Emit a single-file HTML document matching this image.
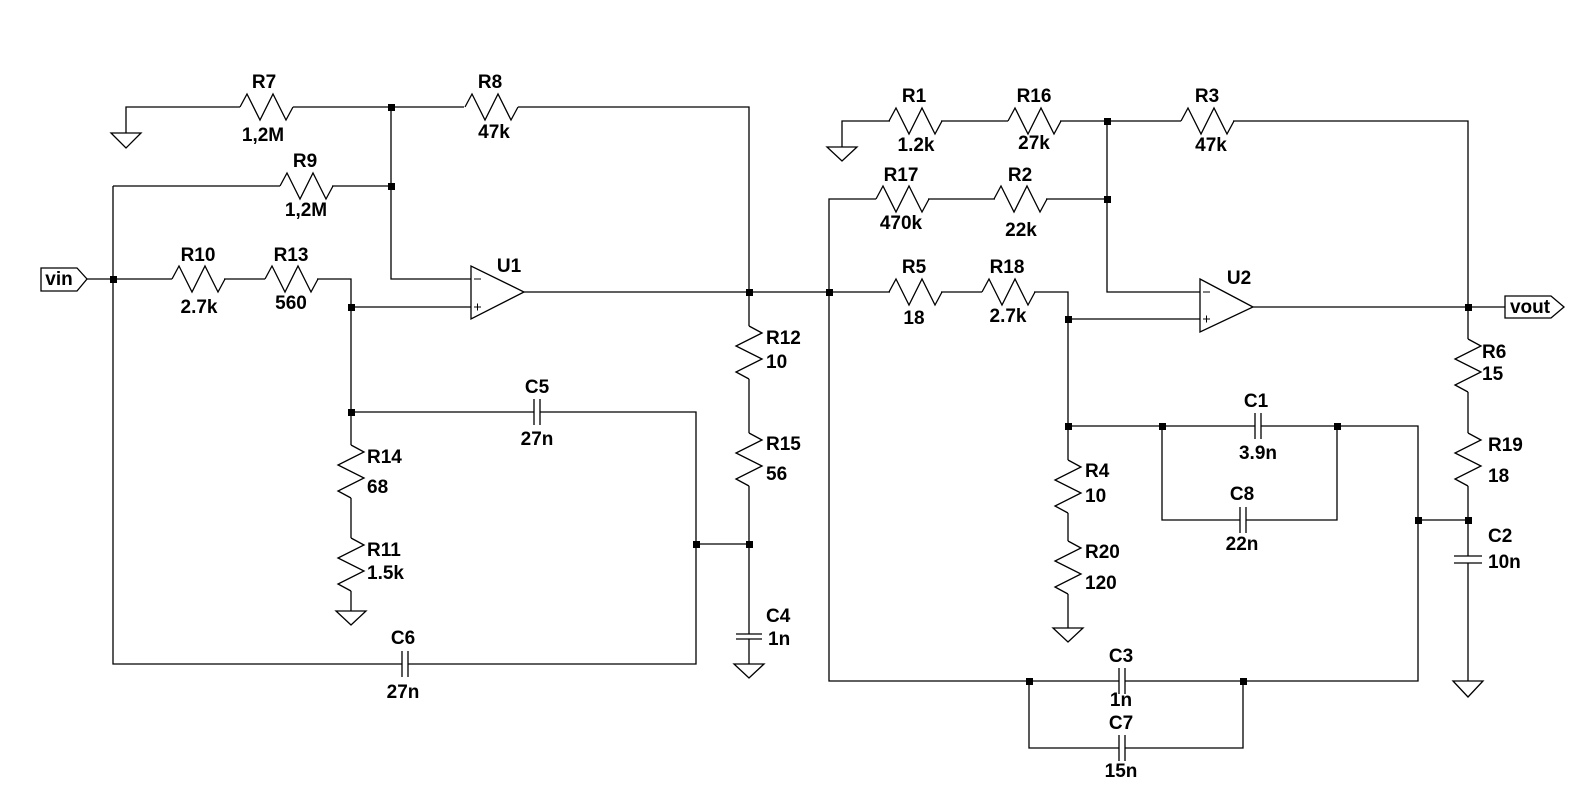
<!DOCTYPE html>
<html><head><meta charset="utf-8"><style>
html,body{margin:0;padding:0;background:#fff;}
svg{display:block;}
text{font-family:"Liberation Sans",Arial,sans-serif;font-weight:bold;font-size:19px;fill:#000;dominant-baseline:middle;}
.c{text-anchor:middle;}
</style></head><body>
<svg width="1580" height="794" viewBox="0 0 1580 794" xmlns="http://www.w3.org/2000/svg">
<defs>
<path id="rh" d="M0,0 L7,-13 L20,13 L33,-13 L46,13 L53,0" fill="none" stroke="#000" stroke-width="1.3"/>
<path id="rv" d="M0,0 L13,7 L-13,20 L13,33 L-13,46 L0,53" fill="none" stroke="#000" stroke-width="1.3"/>
</defs>
<g fill="none" stroke="#000" stroke-width="1.3">
<!-- left wires -->
<path d="M126,133 V107 H240 M293,107 H464 M518,107 H749 V326 M749,379 V433 M749,486 V634 M749,639 V664"/>
<path d="M391,107 V279 H471 M113,186 H280 M332,186 H391"/>
<path d="M87,279 H172 M224,279 H265 M317,279 H351 V445 M351,498 V538 M351,591 V611"/>
<path d="M351,307 H471 M351,412 H534 M540,412 H696 V664 H408 M402,664 H113 V186 M696,544 H749"/>
<path d="M524,292 H829"/>
<!-- right wires -->
<path d="M842,147 V121 H890 M941,121 H1008 M1060,121 H1181 M1233,121 H1468 V339 M1468,392 V433 M1468,486 V556 M1468,563 V681"/>
<path d="M829,292 V199 H876 M928,199 H995 M1046,199 H1107 M1107,121 V292 H1200"/>
<path d="M829,292 H890 M941,292 H982 M1034,292 H1068 V460 M1068,513 V541 M1068,594 V628"/>
<path d="M1068,319 H1200 M1068,426 H1255 M1261,426 H1418 V681 H1125 M1119,681 H829 V292"/>
<path d="M1162,426 V520 H1240 M1246,520 H1337 V426 M1029,681 V748 H1119 M1125,748 H1243 V681 M1418,520 H1468 M1253,307 H1505"/>
<!-- capacitor plates -->
<path d="M534,399 V425 M540,399 V425 M402,651 V677 M408,651 V677 M736,634 H762 M736,639 H762"/>
<path d="M1255,413 V439 M1261,413 V439 M1240,507 V533 M1246,507 V533 M1119,668 V694 M1125,668 V694 M1119,735 V761 M1125,735 V761 M1454,556 H1482 M1454,563 H1482"/>
<!-- grounds -->
<path d="M111,133 H141 L126,148 Z M336,611 H366 L351,625 Z M734,664 H764 L749,678 Z M827,147 H857 L842,161 Z M1053,628 H1083 L1068,642 Z M1453,681 H1483 L1468,697 Z"/>
<!-- opamps -->
<path d="M471,266 V319 L524,292 Z M1200,279 V332 L1253,307 Z"/>
<path d="M474,279 H481 M474,307 H481 M477.5,303.5 V310.5 M1203,292 H1210 M1203,319 H1210 M1206.5,315.5 V322.5" stroke-width="1"/>
<!-- ports -->
<path d="M41,268 H77 L87,279 L77,291 H41 Z M1505,296 H1551 L1564,307 L1551,318 H1505 Z"/>
</g>
<use href="#rh" x="240" y="107"/><use href="#rh" x="465" y="107"/><use href="#rh" x="280" y="186"/>
<use href="#rh" x="172" y="279"/><use href="#rh" x="265" y="279"/>
<use href="#rv" x="749" y="326"/><use href="#rv" x="749" y="433"/>
<use href="#rv" x="351" y="445"/><use href="#rv" x="351" y="538"/>
<use href="#rh" x="889" y="121"/><use href="#rh" x="1008" y="121"/><use href="#rh" x="1181" y="121"/>
<use href="#rh" x="876" y="199"/><use href="#rh" x="994" y="199"/>
<use href="#rh" x="889" y="292"/><use href="#rh" x="982" y="292"/>
<use href="#rv" x="1068" y="460"/><use href="#rv" x="1068" y="541"/>
<use href="#rv" x="1468" y="339"/><use href="#rv" x="1468" y="433"/>
<g fill="#000">
<rect x="388" y="104" width="7" height="7"/><rect x="388" y="183" width="7" height="7"/><rect x="110" y="276" width="7" height="7"/>
<rect x="348" y="304" width="7" height="7"/><rect x="348" y="409" width="7" height="7"/><rect x="746" y="289" width="7" height="7"/>
<rect x="693" y="541" width="7" height="7"/><rect x="746" y="541" width="7" height="7"/><rect x="826" y="289" width="7" height="7"/>
<rect x="1104" y="118" width="7" height="7"/><rect x="1104" y="196" width="7" height="7"/><rect x="1065" y="316" width="7" height="7"/>
<rect x="1065" y="423" width="7" height="7"/><rect x="1159" y="423" width="7" height="7"/><rect x="1334" y="423" width="7" height="7"/>
<rect x="1415" y="517" width="7" height="7"/><rect x="1465" y="517" width="7" height="7"/><rect x="1465" y="304" width="7" height="7"/>
<rect x="1026" y="678" width="7" height="7"/><rect x="1240" y="678" width="7" height="7"/>
</g>
<text x="59" y="280" class="c">vin</text>
<text x="1530" y="308" class="c">vout</text>
<text x="264" y="83" class="c">R7</text><text x="263" y="136" class="c">1,2M</text>
<text x="490" y="83" class="c">R8</text><text x="494" y="133" class="c">47k</text>
<text x="305" y="162" class="c">R9</text><text x="306" y="211" class="c">1,2M</text>
<text x="198" y="256" class="c">R10</text><text x="199" y="308" class="c">2.7k</text>
<text x="291" y="256" class="c">R13</text><text x="291" y="304" class="c">560</text>
<text x="509" y="267" class="c">U1</text>
<text x="537" y="388" class="c">C5</text><text x="537" y="440" class="c">27n</text>
<text x="766" y="339">R12</text><text x="766" y="363">10</text>
<text x="766" y="445">R15</text><text x="766" y="475">56</text>
<text x="367" y="458">R14</text><text x="367" y="488">68</text>
<text x="367" y="551">R11</text><text x="367" y="574">1.5k</text>
<text x="766" y="617">C4</text><text x="768" y="640">1n</text>
<text x="403" y="639" class="c">C6</text><text x="403" y="693" class="c">27n</text>
<text x="914" y="97" class="c">R1</text><text x="916" y="146" class="c">1.2k</text>
<text x="1034" y="97" class="c">R16</text><text x="1034" y="144" class="c">27k</text>
<text x="1207" y="97" class="c">R3</text><text x="1211" y="146" class="c">47k</text>
<text x="901" y="176" class="c">R17</text><text x="901" y="224" class="c">470k</text>
<text x="1020" y="176" class="c">R2</text><text x="1021" y="231" class="c">22k</text>
<text x="914" y="268" class="c">R5</text><text x="914" y="319" class="c">18</text>
<text x="1007" y="268" class="c">R18</text><text x="1008" y="317" class="c">2.7k</text>
<text x="1239" y="279" class="c">U2</text>
<text x="1256" y="402" class="c">C1</text><text x="1258" y="454" class="c">3.9n</text>
<text x="1242" y="495" class="c">C8</text><text x="1242" y="545" class="c">22n</text>
<text x="1085" y="472">R4</text><text x="1085" y="497">10</text>
<text x="1085" y="553">R20</text><text x="1085" y="584">120</text>
<text x="1121" y="657" class="c">C3</text><text x="1121" y="701" class="c">1n</text>
<text x="1121" y="724" class="c">C7</text><text x="1121" y="772" class="c">15n</text>
<text x="1482" y="353">R6</text><text x="1482" y="375">15</text>
<text x="1488" y="446">R19</text><text x="1488" y="477">18</text>
<text x="1488" y="537">C2</text><text x="1488" y="563">10n</text>
</svg>
</body></html>
